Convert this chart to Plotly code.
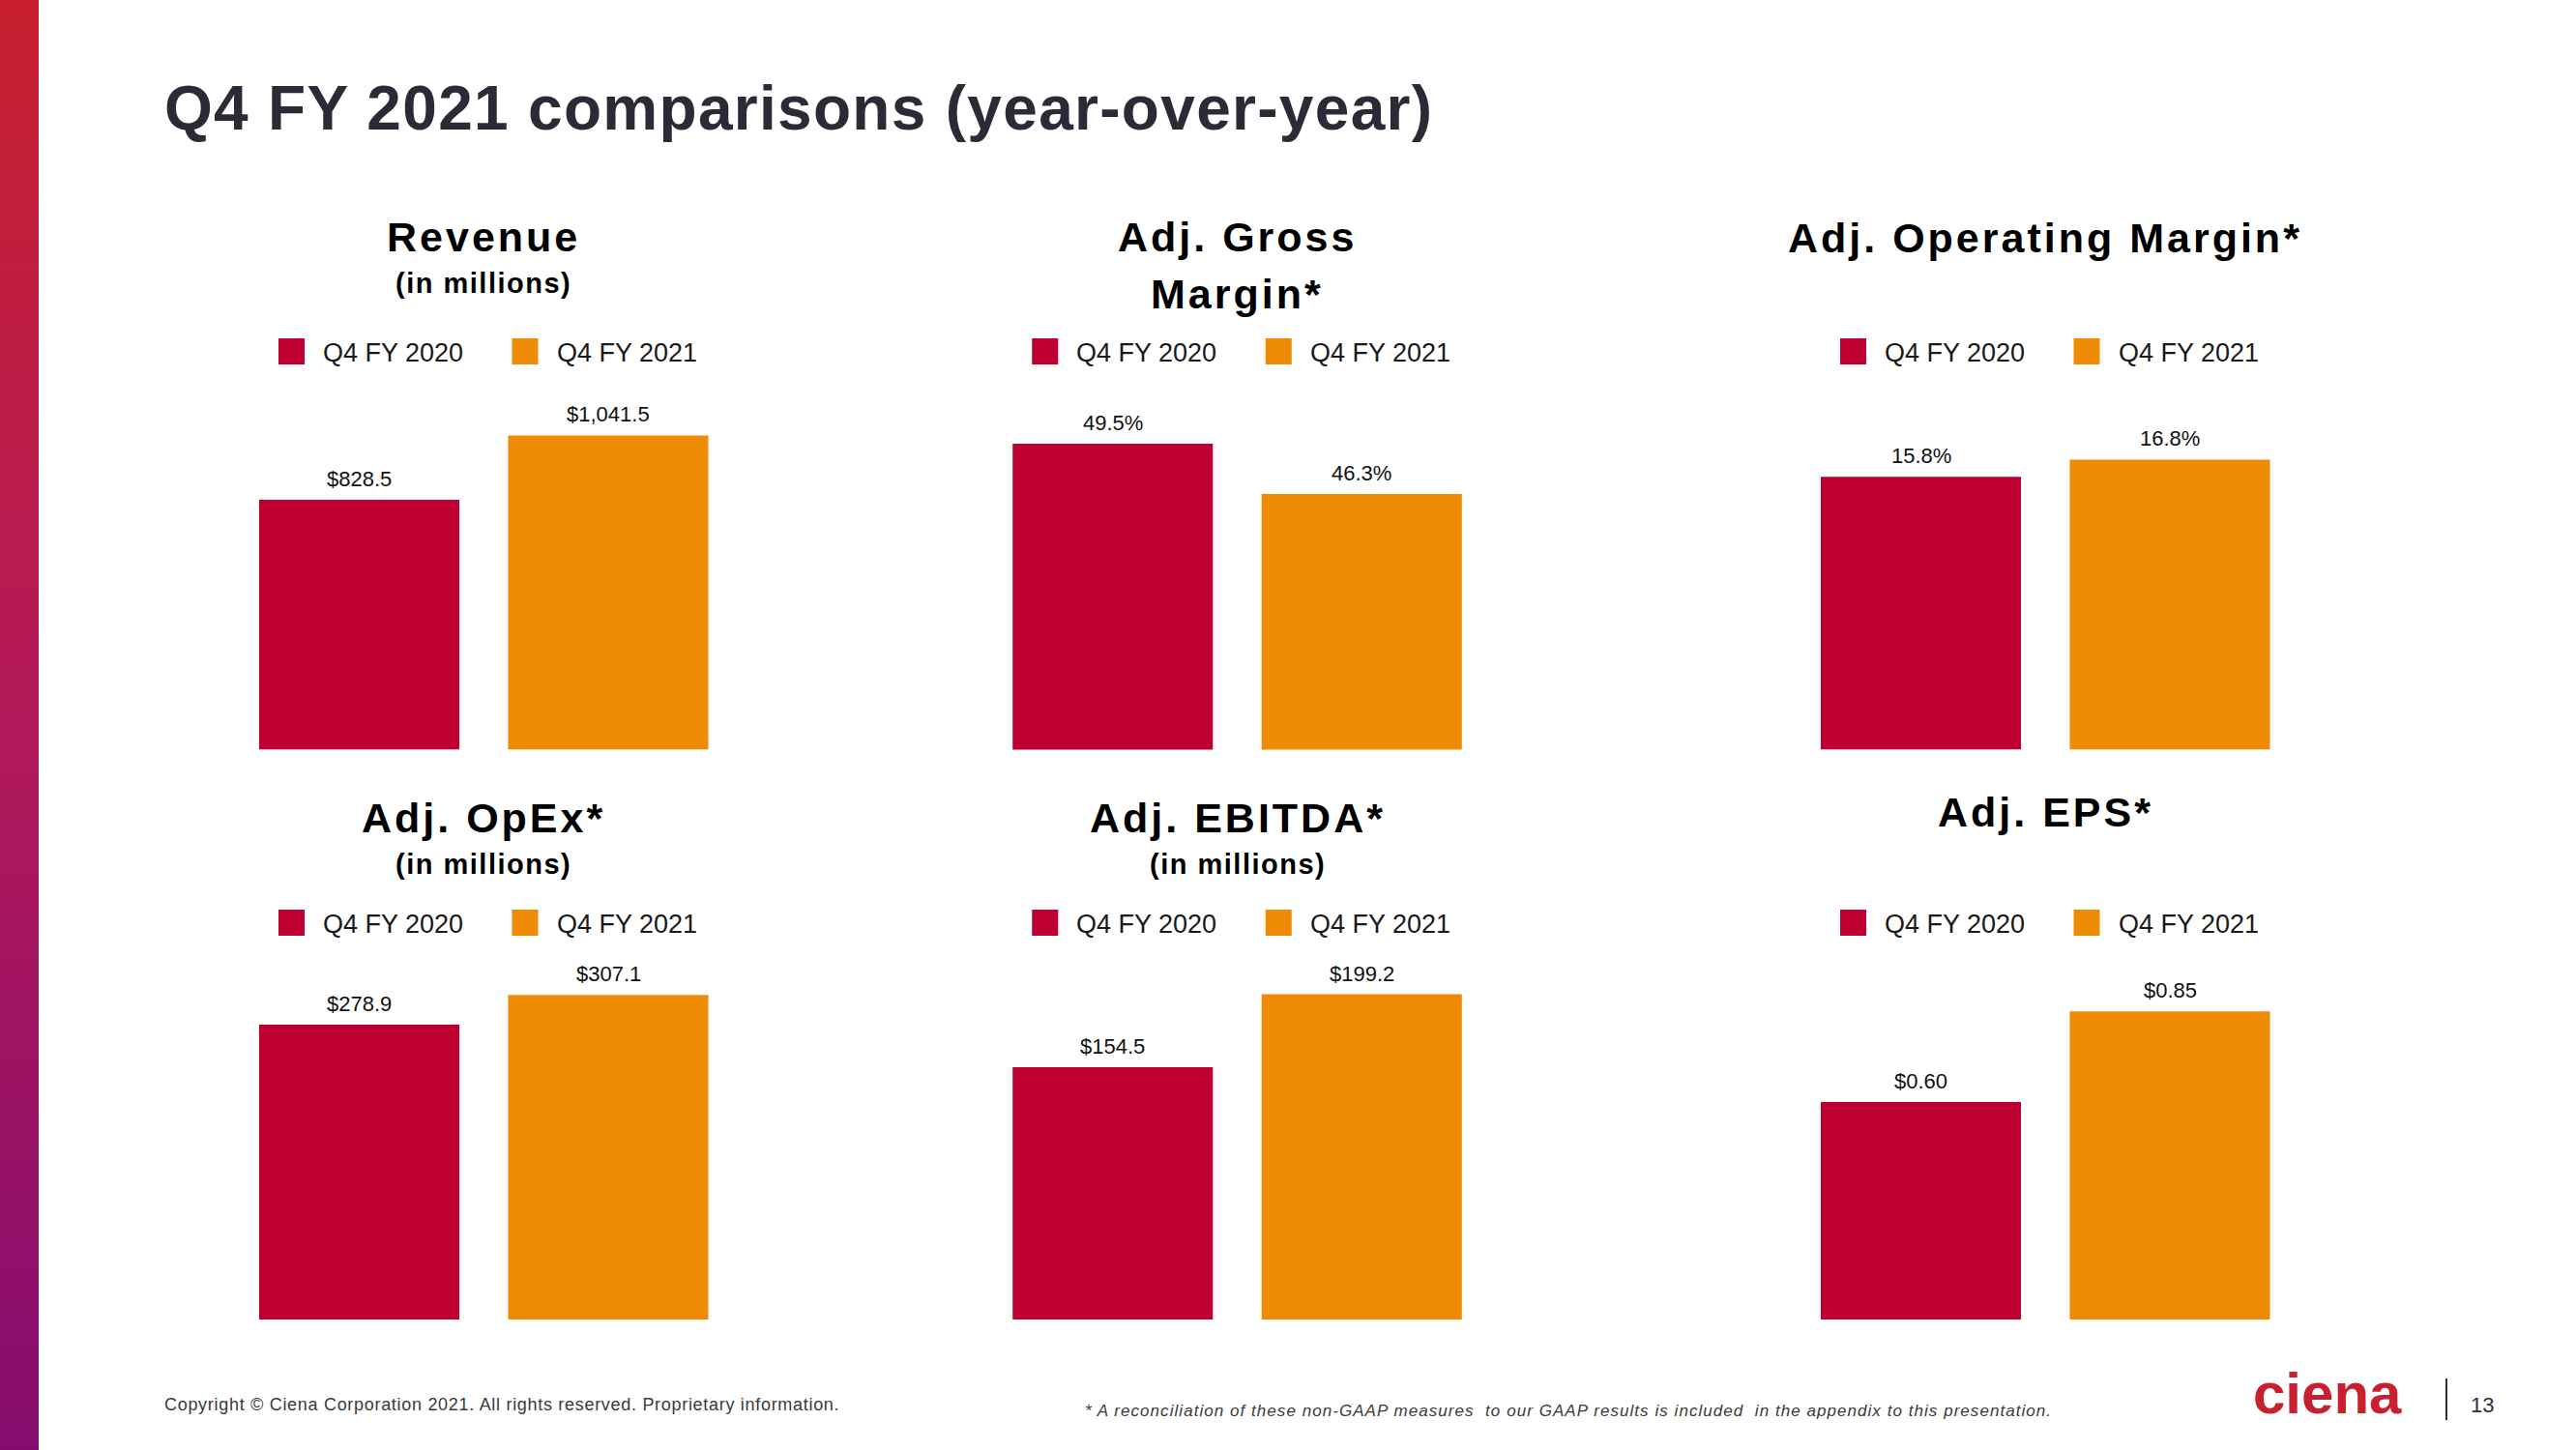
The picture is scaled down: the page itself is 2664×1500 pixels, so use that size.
import base64
import plotly.graph_objects as go

W, H = 2664, 1500

# ---------------- data ----------------
periods = ["Q4 FY 2020", "Q4 FY 2021"]

panel_titles = ["Revenue", "Adj. Gross<br>Margin*", "Adj. Operating Margin*",
                "Adj. OpEx*", "Adj. EBITDA*", "Adj. EPS*"]
panel_subtitles = ["(in millions)", "", "", "(in millions)", "(in millions)", ""]

revenue = [828.5, 1041.5]
gross_margin = [49.5, 46.3]
op_margin = [15.8, 16.8]
opex = [278.9, 307.1]
ebitda = [154.5, 199.2]
eps = [0.60, 0.85]

revenue_labels = ["$828.5", "$1,041.5"]
gross_margin_labels = ["49.5%", "46.3%"]
op_margin_labels = ["15.8%", "16.8%"]
opex_labels = ["$278.9", "$307.1"]
ebitda_labels = ["$154.5", "$199.2"]
eps_labels = ["$0.60", "$0.85"]

# value-axis ranges (gross margin axis starts at 30%)
axis_ranges = [[0, 1139], [30, 51.9], [0, 19.9], [0, 343], [0, 222], [0, 1.0]]

series = [revenue, gross_margin, op_margin, opex, ebitda, eps]
labels = [revenue_labels, gross_margin_labels, op_margin_labels,
          opex_labels, ebitda_labels, eps_labels]

# ---------------- style ----------------
RED = "#BE0030"
ORANGE = "#EF8A04"
COLORS = [RED, ORANGE]
BOLD = "Liberation Sans, Arial, sans-serif"
REG = "Liberation Sans, Arial, sans-serif"

col_left = [242.75, 1022.0, 1857.75]   # px, left edge of each panel's category axis
col_width = 515.0
row_bottom = [775.5, 1365.0]
row_top = [420.0, 990.0]


def px_x(v):
    return v / W


def px_y(v):
    return 1 - v / H


fig = go.Figure()

annotations = []
shapes = []

for i in range(6):
    r, c = divmod(i, 3)
    n = i + 1
    xa = "x" if n == 1 else f"x{n}"
    ya = "y" if n == 1 else f"y{n}"
    fig.add_trace(go.Bar(
        x=periods, y=series[i], marker=dict(color=COLORS, line=dict(width=0)),
        xaxis=xa, yaxis=ya, showlegend=False, hoverinfo="skip"))
    left = col_left[c]
    fig.update_layout({
        f"xaxis{'' if n == 1 else n}": dict(
            domain=[px_x(left), px_x(left + col_width)], type="category",
            visible=False, fixedrange=True, anchor=ya),
        f"yaxis{'' if n == 1 else n}": dict(
            domain=[px_y(row_bottom[r]), px_y(row_top[r])], range=axis_ranges[i],
            visible=False, fixedrange=True, anchor=xa),
    })
    # value labels
    for k in range(2):
        annotations.append(dict(
            x=periods[k], y=series[i][k], xref=xa, yref=ya, text=labels[i][k],
            showarrow=False, yanchor="bottom", xanchor="center", yshift=7,
            font=dict(family=REG, size=22, color="#111111")))
    # panel title
    cx = left + col_width / 2
    lines = panel_titles[i].split("<br>")
    if r == 0:
        ys = [245, 304] if len(lines) > 1 else [246 if c == 2 else 245]
        sub_y = 293
    else:
        ys = [840 if c == 2 else 846]
        sub_y = 894
    for line, yy in zip(lines, ys):
        annotations.append(dict(
            x=px_x(cx), y=px_y(yy), xref="paper", yref="paper",
            text=f'<span style="letter-spacing:3px">{line}</span>',
            showarrow=False, xanchor="center", yanchor="middle",
            font=dict(family=BOLD, size=43, color="#000000", weight="bold")))
    if panel_subtitles[i]:
        annotations.append(dict(
            x=px_x(cx), y=px_y(sub_y), xref="paper", yref="paper",
            text=f'<span style="letter-spacing:1.5px">{panel_subtitles[i]}</span>',
            showarrow=False, xanchor="center", yanchor="middle",
            font=dict(family=BOLD, size=29, color="#000000", weight="bold")))
    # legend (manual, to get large swatches)
    sq_top = 350 if r == 0 else 941
    bar_left = left + (257.5 - 207) / 2
    sq_lefts = [bar_left + 20, bar_left + 257.5 + 4]
    for k in range(2):
        sl = sq_lefts[k]
        shapes.append(dict(type="rect", xref="paper", yref="paper",
                           x0=px_x(sl), x1=px_x(sl + 27), y0=px_y(sq_top + 27), y1=px_y(sq_top),
                           fillcolor=COLORS[k], line=dict(width=0)))
        annotations.append(dict(
            x=px_x(sl + 44), y=px_y(sq_top + 15), xref="paper", yref="paper",
            text=periods[k], showarrow=False, xanchor="left", yanchor="middle",
            font=dict(family=REG, size=27, color="#1a1a1a")))

# main title
annotations.append(dict(
    x=px_x(168), y=px_y(112), xref="paper", yref="paper",
    text='<span style="letter-spacing:1.3px">Q4 FY 2021 comparisons (year-over-year)</span>',
    showarrow=False, xanchor="left", yanchor="middle",
    font=dict(family=BOLD, size=64, color="#2a2b36", weight="bold")))

# footer
annotations.append(dict(
    x=px_x(168), y=px_y(1453), xref="paper", yref="paper",
    text='<span style="letter-spacing:0.7px">Copyright © Ciena Corporation 2021. All rights reserved. Proprietary information.</span>',
    showarrow=False, xanchor="left", yanchor="middle",
    font=dict(family=REG, size=18, color="#3a3a3a")))
annotations.append(dict(
    x=px_x(1120), y=px_y(1459), xref="paper", yref="paper",
    text='<span style="letter-spacing:1.05px">* A reconciliation of these non-GAAP measures  to our GAAP results is included  in the appendix to this presentation.</span>',
    showarrow=False, xanchor="left", yanchor="middle",
    font=dict(family=REG, size=17, color="#3a3a3a", style="italic")))
# logo + page number
annotations.append(dict(
    x=px_x(2407), y=px_y(1441), xref="paper", yref="paper", text="ciena",
    showarrow=False, xanchor="center", yanchor="middle",
    font=dict(family=BOLD, size=60, color="#C8202F", weight="bold")))
annotations.append(dict(
    x=px_x(2567), y=px_y(1453), xref="paper", yref="paper", text="13",
    showarrow=False, xanchor="center", yanchor="middle",
    font=dict(family=REG, size=22, color="#333333")))
shapes.append(dict(type="line", xref="paper", yref="paper",
                   x0=px_x(2530), x1=px_x(2530), y0=px_y(1426), y1=px_y(1469),
                   line=dict(color="#333333", width=2)))

# left gradient band
svg = ('<svg xmlns="http://www.w3.org/2000/svg" width="40" height="1500" viewBox="0 0 40 1500" '
       'preserveAspectRatio="none"><defs><linearGradient id="g" x1="0" y1="0" x2="0" y2="1">'
       '<stop offset="0" stop-color="#C8202F"/><stop offset="0.5" stop-color="#B2195A"/>'
       '<stop offset="1" stop-color="#850C6E"/></linearGradient></defs>'
       '<rect width="40" height="1500" fill="url(#g)"/></svg>')
src = "data:image/svg+xml;base64," + base64.b64encode(svg.encode()).decode()

fig.update_layout(
    width=W, height=H, margin=dict(l=0, r=0, t=0, b=0),
    paper_bgcolor="white", plot_bgcolor="white",
    bargap=0.196, showlegend=False,
    annotations=annotations, shapes=shapes,
    images=[dict(source=src, xref="paper", yref="paper", x=0, y=1,
                 sizex=40 / W, sizey=1, xanchor="left", yanchor="top",
                 sizing="stretch", layer="below")],
)

fig.write_html("out.html", config={"displayModeBar": False},
               post_script="document.body.style.margin='0px';document.body.style.overflow='hidden';")
